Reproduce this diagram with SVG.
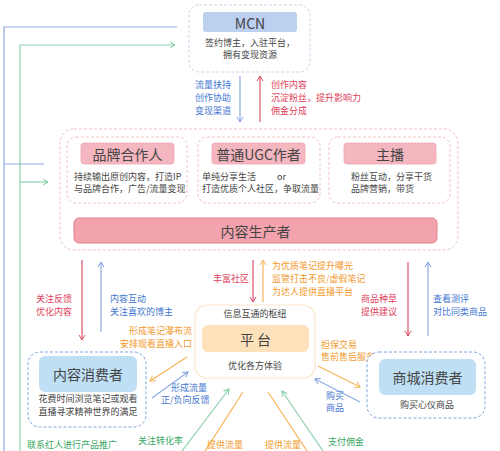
<svg xmlns="http://www.w3.org/2000/svg" width="500" height="451" viewBox="0 0 500 451">
<defs>
<marker id="aBlue" markerWidth="8" markerHeight="8" refX="6" refY="4" orient="auto" markerUnits="userSpaceOnUse"><path d="M1,1 L6,4 L1,7" fill="none" stroke="#7b9fe0" stroke-width="1"/></marker>
<marker id="aRed" markerWidth="8" markerHeight="8" refX="6" refY="4" orient="auto" markerUnits="userSpaceOnUse"><path d="M1,1 L6,4 L1,7" fill="none" stroke="#d9536a" stroke-width="1"/></marker>
<marker id="aOrange" markerWidth="8" markerHeight="8" refX="6" refY="4" orient="auto" markerUnits="userSpaceOnUse"><path d="M1,1 L6,4 L1,7" fill="none" stroke="#f6b35a" stroke-width="1"/></marker>
<marker id="aGreen" markerWidth="8" markerHeight="8" refX="6" refY="4" orient="auto" markerUnits="userSpaceOnUse"><path d="M1,1 L6,4 L1,7" fill="none" stroke="#7ccaa0" stroke-width="1"/></marker>
</defs>
<style>
text{font-family:"Noto Sans CJK SC","Noto Sans",sans-serif;}
.d{font-size:9px;fill:#444;}
.lb{font-size:9px;fill:#3f75d0;}
.lr{font-size:9px;fill:#e0405a;}
.lo{font-size:9px;fill:#f29a2e;}
.lg{font-size:9px;fill:#3aa864;}
.t{font-size:14px;fill:#444;text-anchor:middle;dominant-baseline:central;}
.c{text-anchor:middle;}
.bl{stroke:#8fabe3;stroke-width:1.2;fill:none;}
.rd{stroke:#d9536a;stroke-width:1.2;fill:none;}
.or{stroke:#f6b35a;stroke-width:1.2;fill:none;}
.gr{stroke:#8ad1aa;stroke-width:1.2;fill:none;}
.pinkbox{fill:#fff;stroke:#f3c2c9;stroke-width:1;stroke-dasharray:3,2;}
.pinklabel{fill:#f4b7c0;stroke:#f0a7b2;stroke-width:0.8;}
.bluebox{fill:#fff;stroke:#7ea6d8;stroke-width:1;stroke-dasharray:3,2;}
.bluelabel{fill:#bfdff4;}
</style>

<g id="connectors">
<path class="bl" d="M177,27 H4 V451 M4,164 H44"/>
<path class="gr" d="M20,451 V45 H175" marker-end="url(#aGreen)"/>
<path class="gr" d="M20,182 H48" marker-end="url(#aGreen)"/>
<line class="bl" x1="240" y1="76" x2="240" y2="122" marker-end="url(#aBlue)"/>
<line class="rd" x1="260" y1="122" x2="260" y2="76" marker-end="url(#aRed)"/>
<line class="rd" x1="82" y1="260" x2="82" y2="340" marker-end="url(#aRed)"/>
<line class="bl" x1="101" y1="332" x2="101" y2="262" marker-end="url(#aBlue)"/>
<line class="rd" x1="253" y1="260" x2="253" y2="302" marker-end="url(#aRed)"/>
<line class="or" x1="263" y1="302" x2="263" y2="260" marker-end="url(#aOrange)"/>
<line class="rd" x1="408" y1="262" x2="408" y2="336" marker-end="url(#aRed)"/>
<line class="bl" x1="428" y1="336" x2="428" y2="262" marker-end="url(#aBlue)"/>
<line class="or" x1="187" y1="357" x2="150" y2="381" marker-end="url(#aOrange)"/>
<line class="bl" x1="152" y1="398" x2="188" y2="372" marker-end="url(#aBlue)"/>
<line class="or" x1="318" y1="366" x2="360" y2="387" marker-end="url(#aOrange)"/>
<line class="bl" x1="360" y1="402" x2="315" y2="379" marker-end="url(#aBlue)"/>
<line class="gr" x1="182" y1="451" x2="229" y2="389" marker-end="url(#aGreen)"/>
<line class="or" x1="243" y1="392" x2="205" y2="451"/>
<line class="or" x1="268" y1="392" x2="307" y2="451"/>
<line class="gr" x1="323" y1="451" x2="282" y2="391" marker-end="url(#aGreen)"/>
</g>

<g id="connector-labels">
<text class="lb" x="195" y="88">流量扶持</text>
<text class="lb" x="195" y="101">创作协助</text>
<text class="lb" x="195" y="114">变现渠道</text>
<text class="lr" x="271" y="88">创作内容</text>
<text class="lr" x="271" y="101">沉淀粉丝，提升影响力</text>
<text class="lr" x="271" y="114">佣金分成</text>
<text class="lr" x="36" y="302">关注反馈</text>
<text class="lr" x="36" y="315">优化内容</text>
<text class="lb" x="110" y="302">内容互动</text>
<text class="lb" x="110" y="315">关注喜欢的博主</text>
<text class="lr" x="213" y="282">丰富社区</text>
<text class="lo" x="272" y="269">为优质笔记提升曝光</text>
<text class="lo" x="272" y="282">监管打击不良/虚假笔记</text>
<text class="lo" x="272" y="295">为达人提供直播平台</text>
<text class="lr" x="361" y="302">商品种草</text>
<text class="lr" x="361" y="315">提供建议</text>
<text class="lb" x="433" y="302">查看测评</text>
<text class="lb" x="433" y="315">对比同类商品</text>
<text class="lo" x="192" y="334" text-anchor="end">形成笔记瀑布流</text>
<text class="lo" x="192" y="347" text-anchor="end">安排观看直播入口</text>
<text class="lb" x="171" y="391">形成流量</text>
<text class="lb" x="161" y="403">正/负向反馈</text>
<text class="lo" x="321" y="348">担保交易</text>
<text class="lo" x="321" y="360">售前售后服务</text>
<text class="lb" x="326" y="399">购买</text>
<text class="lb" x="326" y="411">商品</text>
<text class="lg" x="27" y="448">联系红人进行产品推广</text>
<text class="lg" x="138" y="444">关注转化率</text>
<text class="lo" x="207" y="448">提供流量</text>
<text class="lo" x="265" y="448">提供流量</text>
<text class="lg" x="328" y="445">支付佣金</text>
</g>

<g id="mcn">
<rect x="189" y="5" width="121" height="67" rx="10" fill="#fff" stroke="#c9d5ea" stroke-width="1" stroke-dasharray="3,2"/>
<rect x="203" y="12" width="94" height="20" rx="3" fill="#bcd0f0"/>
<text class="t" x="250" y="22.5">MCN</text>
<text class="d c" x="250" y="46">签约博主，入驻平台，</text>
<text class="d c" x="250" y="58">拥有变现资源</text>
</g>

<g id="producers">
<rect x="60" y="129" width="398" height="121" rx="14" fill="#fff" stroke="#f2c0c8" stroke-width="1" stroke-dasharray="3,2"/>
<g id="brand-partner">
<rect class="pinkbox" x="67" y="137" width="120" height="66" rx="9"/>
<rect class="pinklabel" x="81" y="143" width="93" height="21" rx="3"/>
<text class="t" x="127.5" y="153.5" font-size="13">品牌合作人</text>
<text class="d" x="74" y="180">持续输出原创内容，打造IP</text>
<text class="d" x="74" y="192">与品牌合作，广告/流量变现</text>
</g>
<g id="ugc">
<rect class="pinkbox" x="198" y="137" width="122" height="66" rx="9"/>
<rect class="pinklabel" x="212" y="143" width="93" height="21" rx="3"/>
<text class="t" x="258.5" y="153.5" font-size="13">普通UGC作者</text>
<text class="d" x="202" y="180">单纯分享生活</text>
<text class="d" x="277" y="180">or</text>
<text class="d" x="202" y="192">打造优质个人社区，争取流量</text>
</g>
<g id="anchor">
<rect class="pinkbox" x="329" y="137" width="121" height="66" rx="9"/>
<rect class="pinklabel" x="344" y="143" width="92" height="21" rx="3"/>
<text class="t" x="390" y="153.5" font-size="13">主播</text>
<text class="d" x="351" y="180">粉丝互动，分享干货</text>
<text class="d" x="351" y="192">品牌营销，带货</text>
</g>
<g id="content-producer">
<rect x="74" y="218" width="363" height="25" rx="5" fill="#f3a3ad" stroke="#e27f8d" stroke-width="1"/>
<text class="t" x="255.5" y="230.5" font-size="14">内容生产者</text>
</g>
</g>

<g id="platform">
<rect x="195" y="305" width="120" height="73" rx="12" fill="#fff" stroke="#fbe6cc" stroke-width="1.2"/>
<text class="d c" x="255" y="317">信息互通的枢纽</text>
<rect x="202" y="325" width="107" height="27" rx="6" fill="#fde1bb"/>
<text class="t" x="255.5" y="338.5" font-size="16">平 台</text>
<text class="d c" x="255" y="369">优化各方体验</text>
</g>

<g id="content-consumer">
<rect class="bluebox" x="28" y="352" width="118" height="75" rx="12"/>
<rect class="bluelabel" x="39" y="356" width="98" height="36" rx="6"/>
<text class="t" x="88" y="374" font-size="15">内容消费者</text>
<text class="d c" x="88" y="402">花费时间浏览笔记或观看</text>
<text class="d c" x="88" y="415">直播寻求精神世界的满足</text>
</g>

<g id="mall-consumer">
<rect class="bluebox" x="367" y="352" width="118" height="66" rx="12"/>
<rect class="bluelabel" x="379" y="359" width="97" height="36" rx="6"/>
<text class="t" x="427.5" y="377" font-size="15">商城消费者</text>
<text class="d c" x="427" y="408">购买心仪商品</text>
</g>
</svg>
